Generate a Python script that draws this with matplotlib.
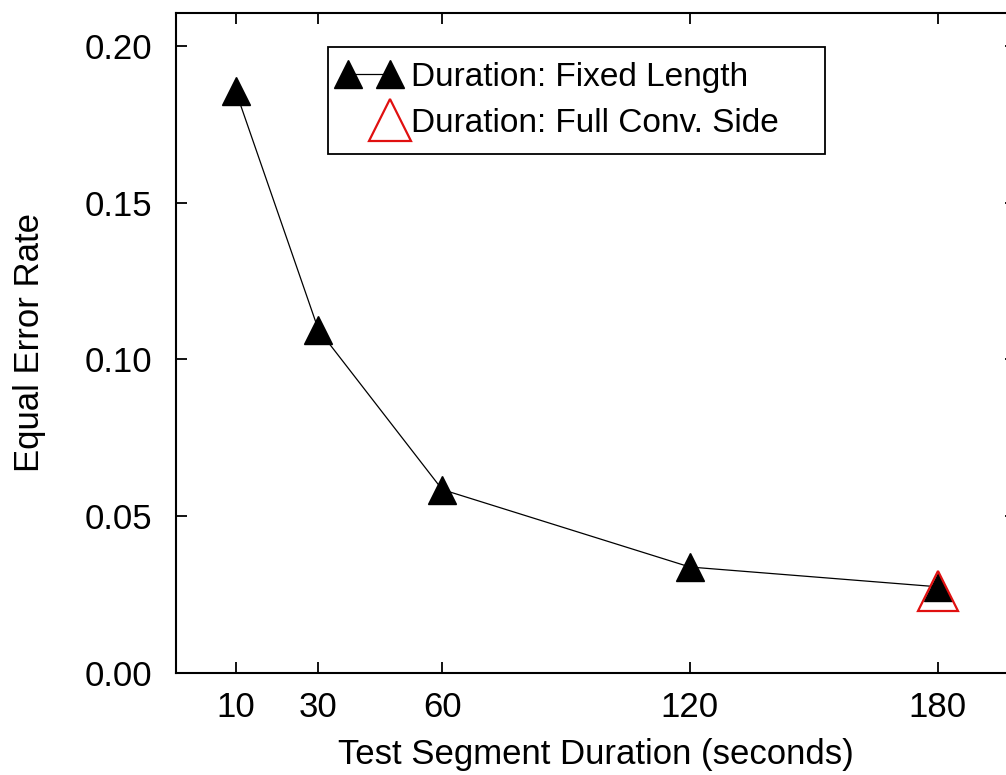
import matplotlib
matplotlib.use("Agg")
import matplotlib.pyplot as plt
from matplotlib.lines import Line2D
from matplotlib.legend_handler import HandlerLine2D

# Data
durations = [10, 30, 60, 120, 180]
eer_fixed = [0.1855, 0.1095, 0.0585, 0.0338, 0.0275]
full_conv_duration = [180]
full_conv_eer = [0.0260]
x_ticks = [10, 30, 60, 120, 180]
y_ticks = [0.00, 0.05, 0.10, 0.15, 0.20]
y_tick_labels = ["0.00", "0.05", "0.10", "0.15", "0.20"]
legend_labels = ['Duration: Fixed Length', 'Duration: Full Conv. Side']

plt.rcParams['font.family'] = ['Liberation Sans', 'DejaVu Sans']


class RightMarkerHandler(HandlerLine2D):
    """Legend handler that shows the marker only at the right-hand point."""
    def create_artists(self, legend, orig_handle, xdescent, ydescent,
                       width, height, fontsize, trans):
        artists = super().create_artists(legend, orig_handle, xdescent, ydescent,
                                         width, height, fontsize, trans)
        for a in artists:
            if isinstance(a, Line2D):
                n = len(a.get_xdata())
                a.set_markevery([n - 1])
        return artists


W, H = 1006, 775
fig = plt.figure(figsize=(W / 100, H / 100), dpi=100)
left_px, right_px, top_px, bottom_px = 176, 1016, 13, 673
ax = fig.add_axes([left_px / W, (H - bottom_px) / H,
                   (right_px - left_px) / W, (bottom_px - top_px) / H])
ax_w = right_px - left_px
ax_h = bottom_px - top_px

RED = '#e01010'
ax.plot(durations, eer_fixed, color='black', linewidth=0.9, marker='^',
        markersize=20, markerfacecolor='black', markeredgecolor='black', zorder=3)
ax.plot(full_conv_duration, full_conv_eer, linestyle='none', marker='^',
        markersize=29, markerfacecolor='none', markeredgecolor=RED,
        markeredgewidth=1.6, zorder=4)

ax.set_xlim(-4.5, 199.0)
ax.set_ylim(0.0, 0.2105)
ax.set_xticks(x_ticks)
ax.set_xticklabels([str(v) for v in x_ticks])
ax.set_yticks(y_ticks)
ax.set_yticklabels(y_tick_labels)

ax.tick_params(axis='both', direction='in', length=8, width=1.3,
               labelsize=25, top=True, right=True)
ax.tick_params(axis='y', pad=17)
ax.tick_params(axis='x', pad=13)
for s in ax.spines.values():
    s.set_linewidth(1.5)

ax.set_xlabel('Test Segment Duration (seconds)', fontsize=25)
ax.set_ylabel('Equal Error Rate', fontsize=25)
ax.xaxis.set_label_coords(0.5, (bottom_px - 738) / ax_h)
ax.yaxis.set_label_coords((46 - left_px) / ax_w, 0.5)

h1 = Line2D([], [], color='black', linewidth=0.9, marker='^', markersize=20,
            markerfacecolor='black', markeredgecolor='black')
h2 = Line2D([], [], linestyle='none', marker='^', markersize=30,
            markerfacecolor='none', markeredgecolor=RED, markeredgewidth=1.6)
leg_x0 = (328 - left_px) / ax_w
leg_w = (825 - 328) / ax_w
leg_top = (bottom_px - 47) / ax_h
leg = ax.legend([h1, h2], legend_labels,
                loc='upper left', bbox_to_anchor=(leg_x0, 0.0, leg_w, leg_top),
                mode='expand', borderaxespad=0,
                handler_map={h1: HandlerLine2D(marker_pad=0.15),
                             h2: RightMarkerHandler(marker_pad=0.15)},
                fontsize=24, numpoints=2, handlelength=1.55, handletextpad=0.5,
                fancybox=False, framealpha=1, edgecolor='black',
                borderpad=0.45, labelspacing=0.45)
leg.get_frame().set_linewidth(1.3)

fig.savefig('out.png', dpi=100)
